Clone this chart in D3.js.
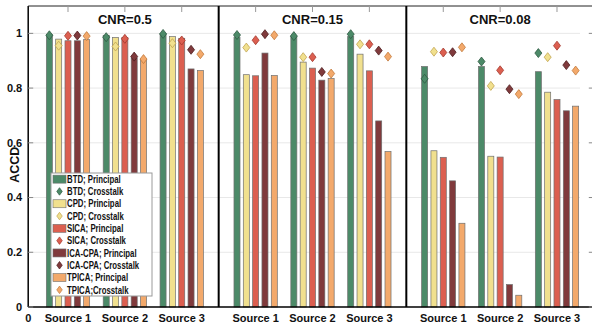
<!DOCTYPE html>
<html><head><meta charset="utf-8">
<script src="https://cdn.jsdelivr.net/npm/d3@7/dist/d3.min.js"></script>
<style>body{margin:0;background:#fff}svg{display:block}text{font-family:"Liberation Sans",Arial,sans-serif;font-weight:bold;fill:#111}</style>
</head><body><svg id="c" width="592" height="324"></svg>
<script>
const methods = ["BTD","CPD","SICA","ICA-CPA","TPICA"];
const panels = ["CNR=0.5","CNR=0.15","CNR=0.08"];
const sources = ["Source 1","Source 2","Source 3"];
const groupPos = [0.7,1.7,2.7, 4,5,6, 7.3,8.3,9.3];
const dividers = [3.35, 6.65];
const yTicks = [0,0.2,0.4,0.6,0.8,1];
const colors = ["#4c8a68","#f1e08e","#dc5f50","#803a3c","#f3a96b"];
const edgeColors = ["#2f5a42","#c2a450","#a33a2e","#4e1e20","#c27a3c"];
// principal (bars) and crosstalk (diamonds): 9 values = 3 panels x 3 sources
const principal = {
  "BTD":     [0.995,0.993,1.000, 0.986,0.988,0.988, 0.879,0.879,0.860],
  "CPD":     [0.979,0.985,0.988, 0.849,0.895,0.924, 0.571,0.551,0.785],
  "SICA":    [0.973,0.985,0.982, 0.845,0.873,0.863, 0.547,0.548,0.758],
  "ICA-CPA": [0.973,0.910,0.870, 0.928,0.829,0.680, 0.461,0.082,0.717],
  "TPICA":   [0.977,0.905,0.864, 0.846,0.835,0.568, 0.306,0.043,0.734]
};
const crosstalk = {
  "BTD":     [0.993,0.986,0.998, 0.994,0.990,0.997, 0.834,0.897,0.928],
  "CPD":     [0.955,0.952,0.964, 0.948,0.913,0.960, 0.933,0.808,0.913],
  "SICA":    [0.991,0.980,0.974, 0.975,0.913,0.960, 0.930,0.865,0.955],
  "ICA-CPA": [0.992,0.915,0.940, 0.997,0.859,0.937, 0.931,0.796,0.884],
  "TPICA":   [0.990,0.906,0.924, 0.993,0.853,0.915, 0.949,0.778,0.864]
};
const legendLabels = ["BTD; Principal","BTD; Crosstalk","CPD; Principal","CPD; Crosstalk","SICA; Principal","SICA; Crosstalk","ICA-CPA; Principal","ICA-CPA; Crosstalk","TPICA; Principal","TPICA;Crosstalk"];

const svg = d3.select("#c");
const x = d3.scaleLinear().domain([0,10]).range([28.2,596.8]);
const y = d3.scaleLinear().domain([0,1.1]).range([307,6]);
const unit = x(1)-x(0);
const pitch = 0.164, bw = 0.106;
const diamond = (cx,cy,w,h)=>`M${cx},${cy-h/2}L${cx+w/2},${cy}L${cx},${cy+h/2}L${cx-w/2},${cy}Z`;

// grid
svg.append("g").selectAll("line").data(yTicks.slice(1)).join("line")
  .attr("x1",x(0)).attr("x2",580).attr("y1",d=>y(d)).attr("y2",d=>y(d))
  .attr("stroke","#e8e8e8").attr("stroke-width",1);

// bars
const gBars = svg.append("g");
methods.forEach((m,mi)=>{
  gBars.selectAll(null).data(principal[m]).join("rect")
    .attr("x",(d,i)=>x(groupPos[i]+(mi-2)*pitch-bw/2))
    .attr("width",bw*unit)
    .attr("y",d=>y(d)).attr("height",d=>y(0)-y(d))
    .attr("fill",colors[mi]).attr("stroke","#6f6f6f").attr("stroke-width",0.7);
});
// diamonds
methods.forEach((m,mi)=>{
  gBars.selectAll(null).data(crosstalk[m]).join("path")
    .attr("d",(d,i)=>diamond(x(groupPos[i]+(mi-2)*pitch),y(d),7,9))
    .attr("fill",colors[mi]).attr("stroke",edgeColors[mi]).attr("stroke-width",0.8);
});

// axes box
svg.append("line").attr("x1",x(0)).attr("x2",x(0)).attr("y1",y(1.1)).attr("y2",y(0)).attr("stroke","#000").attr("stroke-width",1.5);
svg.append("line").attr("x1",x(0)).attr("x2",592).attr("y1",y(0)).attr("y2",y(0)).attr("stroke","#000").attr("stroke-width",1.5);
svg.append("line").attr("x1",x(0)).attr("x2",592).attr("y1",y(1.1)).attr("y2",y(1.1)).attr("stroke","#222").attr("stroke-width",1);
svg.append("line").attr("x1",x(10)).attr("x2",x(10)).attr("y1",y(1.1)).attr("y2",y(0)).attr("stroke","#222").attr("stroke-width",1);
// right inward ticks
svg.append("g").selectAll("line").data(yTicks).join("line")
  .attr("x1",x(10)).attr("x2",x(10)-8).attr("y1",d=>y(d)).attr("y2",d=>y(d)).attr("stroke","#888").attr("stroke-width",1);
// left ticks
svg.append("g").selectAll("line").data(yTicks).join("line")
  .attr("x1",x(0)).attr("x2",x(0)+5).attr("y1",d=>y(d)).attr("y2",d=>y(d)).attr("stroke","#888").attr("stroke-width",1);
// top ticks
svg.append("g").selectAll("line").data(groupPos).join("line")
  .attr("x1",d=>x(d)).attr("x2",d=>x(d)).attr("y1",y(1.1)).attr("y2",y(1.1)+6).attr("stroke","#999").attr("stroke-width",1);
// dividers
svg.append("g").selectAll("line").data(dividers).join("line")
  .attr("x1",d=>x(d)).attr("x2",d=>x(d)).attr("y1",y(1.1)).attr("y2",y(0)).attr("stroke","#000").attr("stroke-width",2);

// y tick labels
svg.append("g").selectAll("text").data(yTicks).join("text")
  .attr("x",x(0)-6).attr("y",d=>y(d)).attr("dy","0.35em").attr("text-anchor","end")
  .style("font-size","11px").text(d=>d===0?"0":d===1?"1":d.toFixed(1));
// x labels
svg.append("text").attr("x",x(0)).attr("y",318).attr("dy","0.35em").attr("text-anchor","middle").style("font-size","11px").text("0");
svg.append("g").selectAll("text").data(groupPos).join("text")
  .attr("x",d=>x(d)).attr("y",318).attr("dy","0.35em").attr("text-anchor","middle")
  .style("font-size","11px").text((d,i)=>sources[i%3]);
// y label
svg.append("text").attr("transform",`translate(15,${y(0.52)}) rotate(-90)`).attr("text-anchor","middle").attr("dy","0.35em")
  .style("font-size","12.5px").text("ACCD");
// panel titles
svg.append("g").selectAll("text").data(panels).join("text")
  .attr("x",(d,i)=>x(groupPos[i*3+1])).attr("y",y(1.05)).attr("dy","0.35em").attr("text-anchor","middle")
  .style("font-size","13px").text(d=>d);

// legend
const lg = svg.append("g");
const lx = 51, ly = 173, lw = 101, rowH = 12.3;
lg.append("rect").attr("x",lx).attr("y",ly).attr("width",lw).attr("height",rowH*10).attr("fill","#fff").attr("stroke","#9a9a9a").attr("stroke-width",1);
legendLabels.forEach((lab,i)=>{
  const mi = Math.floor(i/2), cy = ly + rowH*(i+0.5);
  if(i%2===0){
    lg.append("rect").attr("x",lx+2).attr("y",cy-4).attr("width",13).attr("height",8)
      .attr("fill",colors[mi]).attr("stroke","#6f6f6f").attr("stroke-width",0.6);
  } else {
    lg.append("path").attr("d",diamond(lx+8.5,cy,5.5,7.5)).attr("fill",colors[mi]).attr("stroke",edgeColors[mi]).attr("stroke-width",0.7);
  }
  const t = lg.append("text").attr("x",lx+16).attr("y",cy).attr("dy","0.36em").style("font-size","10.4px").text(lab);
  const w = t.node().getComputedTextLength();
  t.attr("textLength",w*0.75).attr("lengthAdjust","spacingAndGlyphs");
});
</script></body></html>
